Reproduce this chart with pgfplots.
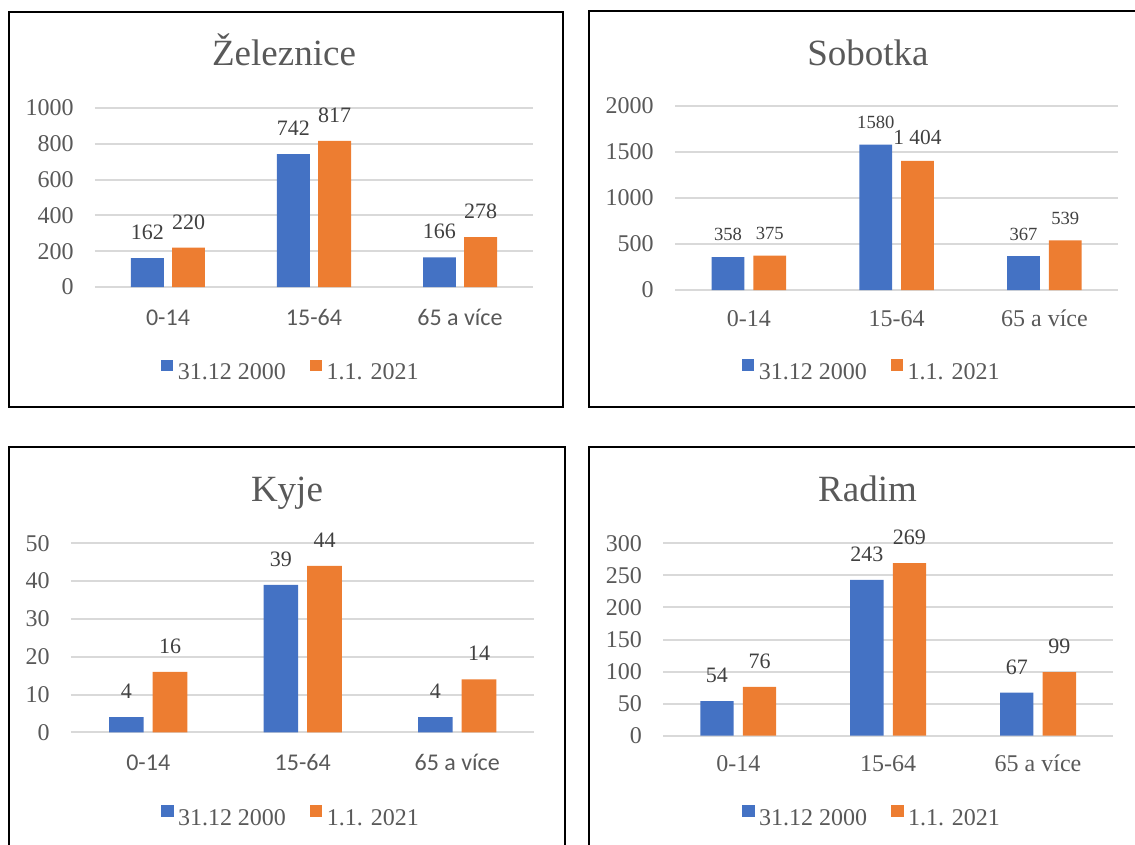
\documentclass[border=0pt]{standalone}
\usepackage{pgfplots}
\pgfplotsset{compat=1.18}
\usepackage{fontspec}
\setmainfont{Liberation Serif}
\newfontfamily\lserif{Liberation Serif}
\newfontfamily\calibri{Carlito}
\definecolor{xblue}{HTML}{4472C4}
\definecolor{xorange}{HTML}{ED7D31}
\definecolor{txt}{HTML}{595959}
\definecolor{lbl}{HTML}{404040}
\definecolor{gridc}{HTML}{D9D9D9}
\pgfplotsset{
 panel/.style={
   scale only axis, anchor=south west,
   xmin=-0.5, xmax=2.5, ymin=0, enlargelimits=false,
   axis line style={draw=none}, major tick length=0pt,
   ymajorgrids, major grid style={draw=gridc, line width=1pt},
   xtick={0,1,2}, xticklabels={0-14,15-64,65 a více},
   point meta=explicit symbolic, nodes near coords,
   every node near coord/.append style={font=\lserif\fontsize{11pt}{13pt}\selectfont, text=lbl, inner sep=0pt, yshift=9pt},
   /pgf/number format/assume math mode=true,
   /pgf/number format/1000 sep={},
   scaled y ticks=false,
   yticklabel style={font=\lserif\fontsize{12pt}{14pt}\selectfont, text=txt, inner sep=0pt, xshift=-10.5pt},
   xticklabel style={font=\lserif\fontsize{12pt}{14pt}\selectfont, text=txt, anchor=base, inner sep=0pt, yshift=-19pt},
   every axis title shift=0pt,
   title style={font=\lserif\fontsize{18.5pt}{22pt}\selectfont, text=txt, anchor=base},
   legend style={draw=none, fill=none, legend columns=2, font=\lserif\fontsize{12pt}{14pt}\selectfont, text=txt, anchor=center, inner sep=0pt,
     nodes={inner sep=0pt, text depth=0pt},
     /tikz/every odd column/.append style={column sep=2.2pt},
     /tikz/every even column/.append style={column sep=12pt}},
   clip=false,
 },
 sq/.style={draw=none, fill=#1, legend image code/.code={\fill[#1] (0pt,0.3pt) rectangle (6.2pt,6.15pt);}},
}
\begin{document}
\begin{tikzpicture}
\useasboundingbox (0,0) rectangle (567.5pt,-422.5pt);
\clip (0,0) rectangle (567.5pt,-422.5pt);
\draw[line width=1pt] (4.5pt,-5.85pt) rectangle (281.5pt,-203.5pt);
\draw[line width=1pt] (294.4pt,-5.4pt) rectangle (580pt,-203.5pt);
\draw[line width=1pt] (4.5pt,-223.35pt) rectangle (282.5pt,-440pt);
\draw[line width=1pt] (294.4pt,-223.65pt) rectangle (580pt,-440pt);

% Zeleznice
\begin{axis}[panel, at={(47.5pt,-143.5pt)}, width=219pt, height=89.5pt,
  ymax=1000, ytick={0,200,...,1000}, ybar=4.2pt, bar width=16.4pt,
  title={Železnice}, title style={at={(0.4315,1.236)}},
  legend style={at={(0.4447,-0.462)}},
  xticklabel style={font=\calibri\fontsize{12pt}{14pt}\selectfont}]
\addplot[sq=xblue] coordinates {(0,162)[162] (1,742)[742] (2,166)[166]};
\addplot[sq=xorange] coordinates {(0,220)[220] (1,817)[817] (2,278)[278]};
\legend{31.12 2000, 1.1. 2021}
\end{axis}

% Sobotka
\begin{axis}[panel, at={(337.5pt,-145pt)}, width=221.65pt, height=92pt,
  ymax=2000, ytick={0,500,...,2000}, ybar=4.5pt, bar width=16.35pt,
  title={Sobotka}, title style={at={(0.4354,1.2228)}},
  legend style={at={(0.4417,-0.431)}},
  xticklabel style={yshift=1pt},
  every node near coord/.append style={font=\lserif\fontsize{9.3pt}{11pt}\selectfont, yshift=-1.25pt}]
\addplot[sq=xblue] coordinates {(0,358)[358] (1,1580)[1580] (2,367)[367]};
\addplot[sq=xorange] coordinates {(0,375)[375] (1,1404)[{\fontsize{10.7pt}{12pt}\selectfont 1 404}] (2,539)[539]};
\legend{31.12 2000, 1.1. 2021}
\end{axis}

% Kyje
\begin{axis}[panel, at={(35.5pt,-366.15pt)}, width=231.75pt, height=94.5pt,
  ymax=50, ytick={0,10,...,50}, ybar=4.5pt, bar width=17.3pt,
  title={Kyje}, title style={at={(0.466,1.22)}},
  legend style={at={(0.4725,-0.4376)}},
  xticklabel style={font=\calibri\fontsize{12pt}{14pt}\selectfont}]
\addplot[sq=xblue] coordinates {(0,4)[4] (1,39)[39] (2,4)[4]};
\addplot[sq=xorange] coordinates {(0,16)[16] (1,44)[44] (2,14)[14]};
\legend{31.12 2000, 1.1. 2021}
\end{axis}

% Radim
\begin{axis}[panel, at={(331.65pt,-367.85pt)}, width=224.85pt, height=96.2pt,
  ymax=300, ytick={0,50,...,300}, ybar=4.65pt, bar width=16.65pt,
  title={Radim}, title style={at={(0.4541,1.216)}},
  legend style={at={(0.4623,-0.412)}},
  xticklabel style={yshift=1pt}]
\addplot[sq=xblue] coordinates {(0,54)[54] (1,243)[243] (2,67)[67]};
\addplot[sq=xorange] coordinates {(0,76)[76] (1,269)[269] (2,99)[99]};
\legend{31.12 2000, 1.1. 2021}
\end{axis}
\end{tikzpicture}
\end{document}
